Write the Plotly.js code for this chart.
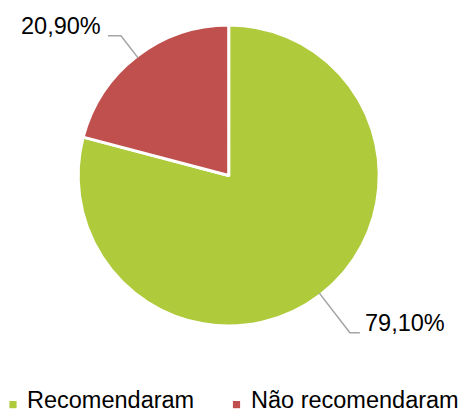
<!DOCTYPE html>
<html><head><meta charset="utf-8">
<script src="https://cdn.plot.ly/plotly-3.0.1.min.js"></script>
<style>html,body{margin:0;padding:0;background:#fff;overflow:hidden}</style>
</head><body>
<div id="chart" style="width:460px;height:414px"></div>
<script>
const categories = ["Recomendaram", "Não recomendaram"];
const values = [79.10, 20.90];
const colors = ["#AFCA3B", "#C0504D"];
const labelTexts = ["79,10%", "20,90%"];

const W = 460, H = 414;
// pie geometry in page pixels
const cx = 228.7, cy = 175.5, R = 150.5;
const px = x => x / W, py = y => 1 - y / H;
const FONT = 'Liberation Sans, Arial, sans-serif';

const total = values.reduce((a, b) => a + b, 0);
let cum = 0;
const shapes = [], annotations = [];
// leader-line styling per slice
const leader = [{len: 50, hor: 10, gap: 3}, {len: 28, hor: 13, gap: 5}];
values.forEach((v, i) => {
  const mid = (cum + v / 2) / total * 2 * Math.PI;
  cum += v;
  const dx = Math.sin(mid), dy = -Math.cos(mid);
  const sx = cx + (R - 2) * dx, sy = cy + (R - 2) * dy;
  const ex = sx + leader[i].len * dx, ey = sy + leader[i].len * dy;
  const side = dx >= 0 ? 1 : -1;
  const hx = ex + side * leader[i].hor;
  shapes.push({type: 'path', xref: 'paper', yref: 'paper',
    path: `M${px(sx)},${py(sy)} L${px(ex)},${py(ey)} L${px(hx)},${py(ey)}`,
    line: {color: '#A6A6A6', width: 1.6}});
  annotations.push({xref: 'paper', yref: 'paper', x: px(hx + side * leader[i].gap), y: py(ey - 10),
    xanchor: side > 0 ? 'left' : 'right', yanchor: 'middle', showarrow: false,
    text: labelTexts[i], font: {family: FONT, size: 23.5, color: '#000'}});
});

// legend (bottom row): swatch + label per category
const legendTextX = [25, 248.5];
const legendY = 401;
categories.forEach((c, i) => {
  const sxc = legendTextX[i] - 12;
  shapes.push({type: 'rect', xref: 'paper', yref: 'paper',
    x0: px(sxc - 3.6), x1: px(sxc + 3.6), y0: py(legendY + 7.2), y1: py(legendY),
    fillcolor: colors[i], line: {width: 0}});
  annotations.push({xref: 'paper', yref: 'paper', x: px(legendTextX[i]), y: py(legendY - 1),
    xanchor: 'left', yanchor: 'middle', showarrow: false,
    text: c, font: {family: FONT, size: 23.5, color: '#000'}});
});

const data = [{
  type: 'pie', labels: categories, values: values, sort: false,
  direction: 'clockwise', rotation: 0, textinfo: 'none', hoverinfo: 'label+percent',
  marker: {colors: colors, line: {color: '#fff', width: 3}},
  domain: {x: [px(cx - R), px(cx + R)], y: [py(cy + R), py(cy - R)]}
}];

const layout = {
  width: W, height: H, margin: {l: 0, r: 0, t: 0, b: 0, autoexpand: false},
  paper_bgcolor: '#fff', separators: ',.',
  font: {family: FONT, size: 23.5, color: '#000'},
  showlegend: false,
  shapes: shapes, annotations: annotations
};
Plotly.newPlot('chart', data, layout, {staticPlot: true, displayModeBar: false});
</script>
</body></html>
